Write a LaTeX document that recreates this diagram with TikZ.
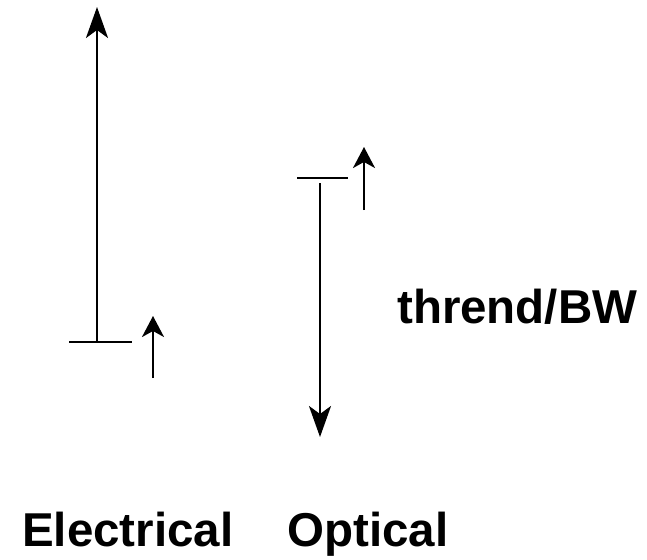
\documentclass[tikz,border=0pt]{standalone}
\usepackage{fontspec}
\setmainfont{Liberation Sans}
\usepackage{tikz}
\usetikzlibrary{positioning,arrows.meta}
\tikzset{
  bar/.style={draw=black, line width=2.2pt},
  bigar/.style={draw=black, line width=2.2pt, -{Stealth[length=31pt, width=22pt, inset=8pt]}},
  smallar/.style={draw=black, line width=2.2pt, -{Stealth[length=21pt, width=22pt, inset=6pt]}},
  lbl/.style={font=\fontsize{47.5}{56}\selectfont\bfseries, inner sep=0pt}
}
\begin{document}
\begin{tikzpicture}[x=1pt, y=-1pt]
  \useasboundingbox (0,0) rectangle (647,559);

  % Electrical
  \coordinate (eL) at (69,342);
  \coordinate (eR) at (132,342);
  \coordinate (eBot) at (97,342);
  \coordinate (eTop) at (97,7);
  \coordinate (esBot) at (153,378);
  \coordinate (esTop) at (153,316);

  % Optical
  \coordinate (oL) at (297,178);
  \coordinate (oR) at (348,178);
  \coordinate (oTop) at (320,183);
  \coordinate (oBot) at (320,437);
  \coordinate (osBot) at (364,210);
  \coordinate (osTop) at (364,147);

  % levels
  \draw[bar] (eL) -- (eR);
  \draw[bar] (oL) -- (oR);

  % arrows
  \draw[bigar] (eBot) -- (eTop);
  \draw[smallar] (esBot) -- (esTop);
  \draw[bigar] (oTop) -- (oBot);
  \draw[smallar] (osBot) -- (osTop);

  % Labels
  \node[lbl, anchor=base west] (bw) at (397,323) {thrend/BW};
  \node[lbl, anchor=base west] (elec) at (22,546) {Electrical};
  \node[lbl, anchor=base west] (opt) at (287,546) {Optical};
\end{tikzpicture}
\end{document}
